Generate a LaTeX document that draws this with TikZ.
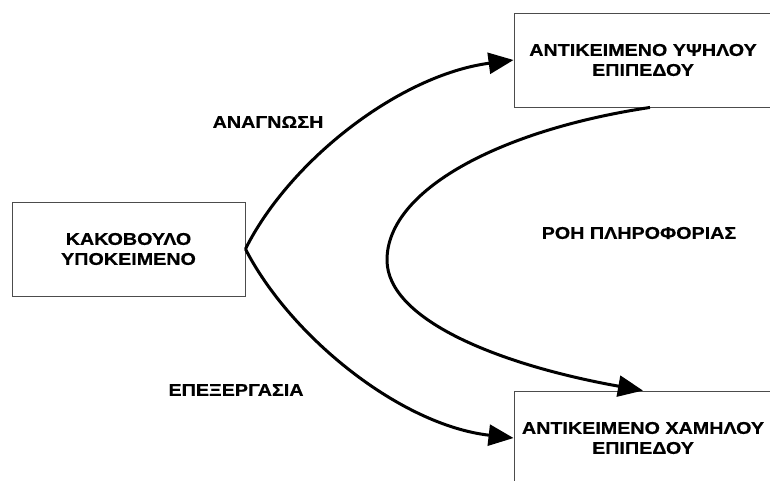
\documentclass[tikz,border=0pt]{standalone}
\usepackage{fontspec}
\newfontfamily\lblfont{Liberation Sans}[UprightFont={* Bold},FakeStretch=1.16,FakeBold=0.6]
\usetikzlibrary{arrows.meta}
\begin{document}
\begin{tikzpicture}[x=1pt,y=-1pt,
  box/.style={draw=black!70,line width=0.9pt,minimum width=258pt,minimum height=94pt,inner sep=0pt,align=center,
    font=\lblfont\fontsize{17}{20}\selectfont},
  lbl/.style={font=\lblfont\fontsize{17}{20}\selectfont,inner sep=0pt},
  flow/.style={line width=3pt,-{Triangle[length=25pt,width=21pt]}}]
\clip (0,0) rectangle (770,480);
\fill[white] (0,0) rectangle (770,480);
\node[box,minimum width=233pt] (mal) at (128.5,249) {ΚΑΚΟΒΟΥΛΟ\\ΥΠΟΚΕΙΜΕΝΟ};
\node[box] (high) at (643,60) {ΑΝΤΙΚΕΙΜΕΝΟ ΥΨΗΛΟΥ\\ΕΠΙΠΕΔΟΥ};
\node[box] (low) at (643,438) {ΑΝΤΙΚΕΙΜΕΝΟ ΧΑΜΗΛΟΥ\\ΕΠΙΠΕΔΟΥ};
\node[lbl] (read) at (268,122) {ΑΝΑΓΝΩΣΗ};
\node[lbl] (proc) at (236,390) {ΕΠΕΞΕΡΓΑΣΙΑ};
\node[lbl] (info) at (639,233) {ΡΟΗ ΠΛΗΡΟΦΟΡΙΑΣ};
\coordinate (turn) at (387,260);
\draw[flow] (mal.east) .. controls (290,160) and (400,75) .. (high.west);
\draw[flow] (mal.east) .. controls (290,336) and (400,425) .. (low.west);
\draw[flow] ([xshift=7pt]high.south) .. controls (500,130) and (387,190) .. (turn)
  .. controls (387,320) and (500,365) .. (low.north);
\end{tikzpicture}
\end{document}
